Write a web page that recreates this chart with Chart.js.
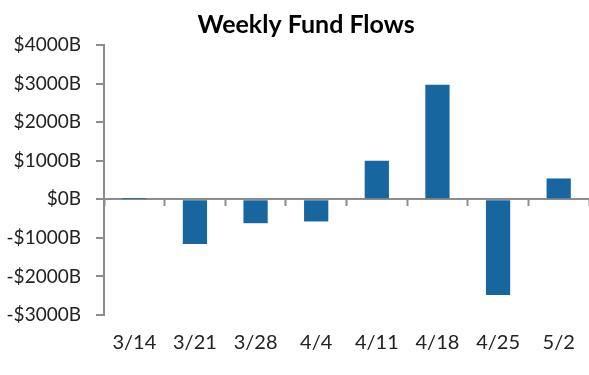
<!DOCTYPE html>
<html>
<head>
<meta charset="utf-8">
<script src="https://cdn.jsdelivr.net/npm/chart.js@4.4.0/dist/chart.umd.min.js"></script>
<style>
  html, body { margin: 0; padding: 0; background: #ffffff; }
  #wrap { width: 589px; height: 375px; position: relative; }
</style>
</head>
<body>
<div id="wrap"><canvas id="c" width="589" height="375"></canvas></div>
<script>
// ---- data ----
const categories = ['3/14', '3/21', '3/28', '4/4', '4/11', '4/18', '4/25', '5/2'];
const flows = [6, -1160, -620, -575, 1000, 2970, -2480, 540];
const yMin = -3000;
const yMax = 4000;
const yStep = 1000;
const titleText = 'Weekly Fund Flows';

function fmtBillions(v) {
  return (v < 0 ? '-$' + (-v) : '$' + v) + 'B';
}

const AXIS = '#8c8c8c';
const FONT = 'Lato, "Noto Sans", sans-serif';

const titlePlugin = {
  id: 'offsetTitle',
  afterDraw(chart) {
    const ctx = chart.ctx;
    ctx.save();
    ctx.font = 'bold 25px ' + FONT;
    ctx.fillStyle = '#000000';
    ctx.textAlign = 'center';
    ctx.textBaseline = 'alphabetic';
    ctx.fillText(titleText, 306, 33);
    ctx.restore();
  }
};

new Chart(document.getElementById('c'), {
  type: 'bar',
  data: {
    labels: categories,
    datasets: [{
      data: flows,
      backgroundColor: '#1866a0',
      borderWidth: 0,
      barPercentage: 0.8,
      categoryPercentage: 0.5
    }]
  },
  options: {
    responsive: false,
    animation: false,
    layout: { padding: { top: 45, right: 0, bottom: 0, left: 0 } },
    plugins: { legend: { display: false }, tooltip: { enabled: false }, title: { display: false } },
    scales: {
      x: {
        position: 'bottom',
        grid: { display: false },
        border: { display: false },
        ticks: { color: '#222222', font: { family: FONT, size: 20 }, padding: 8, maxRotation: 0 },
        afterFit(scale) { scale.height = 60; }
      },
      x2: {
        type: 'category',
        axis: 'x',
        position: { y: 0 },
        offset: true,
        grid: { display: true, offset: true, drawOnChartArea: false, drawTicks: true, tickLength: 7, tickWidth: 2, tickColor: AXIS, color: AXIS },
        border: { display: false },
        ticks: { display: false }
      },
      y: {
        min: yMin,
        max: yMax,
        position: 'left',
        ticks: { stepSize: yStep, color: '#222222', font: { family: FONT, size: 19 }, padding: 15, callback: (v) => fmtBillions(v) },
        grid: {
          drawOnChartArea: true,
          color: (c) => (c.tick && c.tick.value === 0 ? AXIS : 'rgba(0,0,0,0)'),
          lineWidth: 2,
          drawTicks: true,
          tickLength: 8,
          tickWidth: 2,
          tickColor: AXIS
        },
        border: { display: true, color: AXIS, width: 2 },
        afterFit(scale) { scale.width = 104; }
      }
    }
  },
  plugins: [titlePlugin]
});
</script>
</body>
</html>
